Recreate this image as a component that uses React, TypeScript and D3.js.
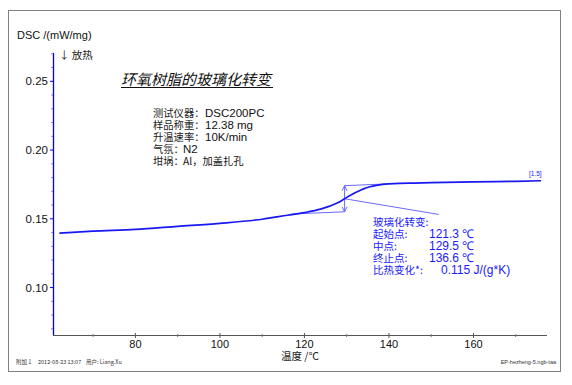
import React from "react";
import * as d3 from "d3";

const temps = [62, 70, 80, 90, 100, 110, 116, 120, 124, 126, 128, 129.5, 131, 132.5, 134, 135.5, 137, 138.5, 140, 142.5, 146, 150, 160, 170, 176];
const dsc = [0.1396, 0.141, 0.1423, 0.1445, 0.1467, 0.1497, 0.1526, 0.1545, 0.1572, 0.1592, 0.1618, 0.1646, 0.1673, 0.1697, 0.1718, 0.1733, 0.1743, 0.175, 0.1754, 0.1758, 0.176, 0.1763, 0.1768, 0.1773, 0.1777];

const xMajor = [80, 100, 120, 140, 160];
const xMinor = [70, 90, 110, 130, 150, 170];
const yMajor = [0.1, 0.15, 0.2, 0.25];
const yMinor = [0.07, 0.08, 0.09, 0.11, 0.12, 0.13, 0.14, 0.16, 0.17, 0.18, 0.19, 0.21, 0.22, 0.23, 0.24, 0.26, 0.27];

const lowerBaseT = [117, 129.5];
const lowerBaseV = [0.1535, 0.1551];
const upperBaseT = [129.5, 139.5];
const upperBaseV = [0.1741, 0.1754];
const midT = 129.5;
const midV = 0.1646;
const leaderEnd = [151.8, 0.1532];

const infoLabels = ["测试仪器：", "样品称重：", "升温速率：", "气氛：", "坩埚："];
const infoValues = ["DSC200PC", "12.38 mg", "10K/min", "N2", "Al，加盖扎孔"];
const resLabels = ["玻璃化转变:", "起始点:", "中点:", "终止点:", "比热变化*:"];
const resValues = ["", "121.3 ℃", "129.5 ℃", "136.6 ℃", "0.115 J/(g*K)"];
const footerLeft = ["附加 1", "2012-08-23 13:07", "用户: Liang.Xu"];
const footerRight = "EP-hezheng-5.ngb-taa";

export default function App() {
  const x = d3.scaleLinear().domain([60.5, 177.4]).range([53, 547]);
  const y = d3.scaleLinear().domain([0.0655, 0.2706]).range([335, 53]);
  const line = d3
    .line<number>()
    .x((_, i) => x(temps[i]))
    .y((d) => y(d))
    .curve(d3.curveMonotoneX);
  const sans = "'Liberation Sans', Arial, sans-serif";
  const cjk = "'Noto Sans CJK SC', sans-serif";
  const blue = "#1a1aff";
  const thin = "#6a6aff";
  const ax = x(midT);
  const aTop = y(upperBaseV[0]);
  const aBot = y(lowerBaseV[1]);
  const infoY = [117, 129, 141, 153, 165];
  const infoVX = [205, 205, 205, 183, 183];
  const resY = [226, 238, 250, 262, 274];
  const resVX = [429, 429, 429, 429, 441];
  const footX = [16, 38, 86];
  return (
    <svg width={572} height={385} style={{ position: "absolute", left: 0, top: 0, background: "#fff" }}>
      <rect x={8.5} y={10.5} width={552} height={361} fill="none" stroke="#808080" strokeWidth={1} />
      {/* axes */}
      <line x1={53} x2={547} y1={335.5} y2={335.5} stroke="#555" strokeWidth={1.2} />
      <line x1={53.5} x2={53.5} y1={53} y2={335} stroke="#0000ff" strokeWidth={1.3} />
      {xMajor.map((t) => (
        <g key={"xm" + t}>
          <line x1={x(t)} x2={x(t)} y1={333} y2={338} stroke="#555" />
          <text x={x(t)} y={348} textAnchor="middle" fontFamily={sans} fontSize={11} fill="#111">
            {t}
          </text>
        </g>
      ))}
      {xMinor.map((t) => (
        <line key={"xn" + t} x1={x(t)} x2={x(t)} y1={334} y2={337} stroke="#777" />
      ))}
      {yMajor.map((v) => (
        <g key={"ym" + v}>
          <line x1={50} x2={53} y1={y(v)} y2={y(v)} stroke="#0000ff" />
          <text x={48} y={y(v) + 4} textAnchor="end" fontFamily={sans} fontSize={11.5} fill="#111">
            {v.toFixed(2)}
          </text>
        </g>
      ))}
      {yMinor.map((v) => (
        <line key={"yn" + v} x1={51} x2={53} y1={y(v)} y2={y(v)} stroke="#6666ff" strokeWidth={0.8} />
      ))}
      <text x={17} y={39} fontFamily={sans} fontSize={11} fill="#111">DSC /(mW/mg)</text>
      <text x={59} y={59} fontFamily={cjk} fontSize={10.5} fill="#222">↓ 放热</text>
      <text x={281} y={360} fontFamily={cjk} fontSize={10.5} fill="#222">温度 /℃</text>

      {/* title */}
      <text x={121} y={85} fontFamily={cjk} fontStyle="italic" fontSize={15} fill="#111">
        环氧树脂的玻璃化转变
      </text>
      <line x1={121} x2={273} y1={87.5} y2={87.5} stroke="#111" strokeWidth={1} />

      <text fontFamily={cjk} fontSize={10.3} fill="#222">
        {infoLabels.map((l, i) => (
          <React.Fragment key={"info" + i}>
            <tspan x={153} y={infoY[i]}>{l}</tspan>
            <tspan x={infoVX[i]} y={infoY[i]} fontFamily={i === 4 ? cjk : sans} fontSize={i === 4 ? 10.3 : 11.5} fill="#111">
              {infoValues[i]}
            </tspan>
          </React.Fragment>
        ))}
      </text>

      {/* construction lines */}
      <line x1={x(lowerBaseT[0])} y1={y(lowerBaseV[0])} x2={x(lowerBaseT[1])} y2={y(lowerBaseV[1])} stroke={thin} strokeWidth={1} />
      <line x1={x(upperBaseT[0])} y1={y(upperBaseV[0])} x2={x(upperBaseT[1])} y2={y(upperBaseV[1])} stroke={thin} strokeWidth={1} />
      <line x1={ax} y1={aTop} x2={ax} y2={aBot} stroke={thin} strokeWidth={1} />
      <path d={`M${ax - 2.5},${aTop + 5} L${ax},${aTop} L${ax + 2.5},${aTop + 5}`} fill="none" stroke={thin} />
      <path d={`M${ax - 2.5},${aBot - 5} L${ax},${aBot} L${ax + 2.5},${aBot - 5}`} fill="none" stroke={thin} />
      <line x1={x(midT)} y1={y(midV)} x2={x(leaderEnd[0])} y2={y(leaderEnd[1])} stroke={thin} strokeWidth={1} />

      {/* curve */}
      <path d={line(dsc) || ""} fill="none" stroke="#1818f0" strokeWidth={1.7} />
      <text x={529} y={176} fontFamily={sans} fontSize={6.5} fill={blue}>[1.5]</text>

      <text fontFamily={cjk} fontSize={10.5} fill={blue}>
        {resLabels.map((l, i) => (
          <React.Fragment key={"res" + i}>
            <tspan x={373} y={resY[i]}>{l}</tspan>
            {resValues[i] && (
              <tspan x={resVX[i]} y={resY[i]} fontFamily={sans} fontSize={12}>
                {resValues[i]}
              </tspan>
            )}
          </React.Fragment>
        ))}
      </text>

      {footerLeft.map((f, i) => (
        <text key={"f" + i} x={footX[i]} y={364} fontFamily={cjk} fontSize={5.5} fill="#333">{f}</text>
      ))}
      <text x={556} y={364} textAnchor="end" fontFamily={sans} fontSize={5.5} fill="#333">{footerRight}</text>
    </svg>
  );
}
